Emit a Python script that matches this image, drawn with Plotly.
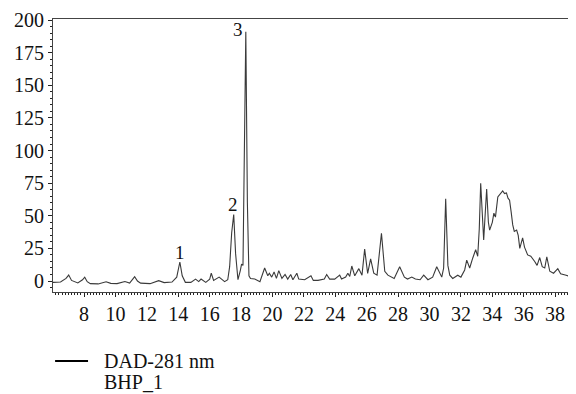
import plotly.graph_objects as go

# Retention time (min) and absorbance (mAU)
time_min = [
    6.00, 6.50, 6.85, 7.02, 7.20, 7.60, 7.90, 8.04, 8.20, 8.40, 8.90, 9.40, 9.70,
    10.10, 10.60, 10.90, 11.10, 11.22, 11.40, 11.60, 12.20, 12.75, 13.10, 13.60,
    13.90, 14.10, 14.25, 14.45, 14.80, 15.10, 15.30, 15.45, 15.75, 16.00, 16.10,
    16.25, 16.60, 16.95, 17.15, 17.27, 17.40, 17.53, 17.65, 17.80, 17.95, 18.03,
    18.12, 18.20, 18.30, 18.40, 18.50, 18.60, 18.87, 19.20, 19.50, 19.70, 19.80,
    19.95, 20.10, 20.25, 20.40, 20.60, 20.80, 20.97, 21.16, 21.30, 21.55, 21.67,
    22.05, 22.45, 22.60, 22.90, 23.30, 23.45, 23.64, 23.96, 24.28, 24.40, 24.66,
    24.80, 24.92, 25.05, 25.24, 25.50, 25.70, 25.87, 26.06, 26.25, 26.45, 26.66,
    26.94, 27.15, 27.35, 27.75, 28.10, 28.40, 28.60, 28.87, 29.10, 29.40, 29.63,
    29.90, 30.20, 30.46, 30.78, 30.90, 31.03, 31.17, 31.29, 31.48, 31.80, 32.00,
    32.24, 32.37, 32.56, 32.75, 32.94, 33.07, 33.17, 33.26, 33.36, 33.45, 33.64,
    33.75, 33.83, 34.00, 34.10, 34.20, 34.35, 34.45, 34.60, 34.66, 34.78, 34.90,
    35.00, 35.10, 35.20, 35.30, 35.40, 35.55, 35.65, 35.75, 35.93, 36.05, 36.25,
    36.45, 36.70, 36.85, 37.02, 37.18, 37.34, 37.47, 37.66, 37.90, 38.17, 38.35,
    38.70, 39.05, 39.31,
]
absorbance = [
    -1.0, -0.8, 2.0, 4.6, 0.5, -1.5, 1.0, 3.0, -0.5, -2.0, -2.2, -0.6, -1.8,
    -2.0, -0.4, -1.5, 1.5, 3.3, 0.0, -1.6, -2.0, 0.3, -1.2, -0.8,
    3.0, 14.6, 4.0, -1.0, -1.0, 1.5, -0.4, 1.5, -1.0, 1.5, 6.0,
    0.5, 3.0, -0.5, 1.0, 11.0, 37.0, 51.0, 21.0, 1.0, 8.0, 13.0,
    12.0, 80.0, 191.0, 60.0, 4.0, 2.0, 1.5, -0.5, 10.0, 4.0, 6.0,
    3.0, 7.0, 2.0, 8.0, 2.0, 5.0, 1.5, 5.0, 1.0, 6.0, 1.5,
    1.0, 4.0, 0.5, 0.5, 1.5, 5.0, 1.5, 1.5, 4.5, 1.5, 3.0,
    6.0, 3.5, 11.5, 4.0, 9.5, 4.5, 24.5, 5.8, 17.0, 6.0, 4.5,
    36.6, 7.5, 4.5, 2.0, 11.0, 3.0, 1.5, 3.0, 1.5, 1.0, 4.5,
    1.0, 3.0, 11.0, 3.0, 10.0, 63.0, 12.0, 4.5, 2.0, 4.5, 3.0,
    8.5, 16.0, 10.0, 17.5, 24.0, 19.0, 40.0, 75.0, 45.0, 31.5, 70.5,
    45.0, 39.0, 45.0, 52.0, 49.0, 64.5, 66.0, 67.5, 69.0, 67.0, 67.5,
    63.5, 62.0, 53.0, 43.0, 38.0, 39.0, 35.0, 25.0, 33.0, 26.0, 20.0,
    19.0, 15.0, 12.0, 18.0, 11.0, 10.0, 18.5, 7.5, 6.0, 9.5, 5.5,
    4.5, 3.0, 2.0,
]

# Peak labels
peak_labels = ["1", "2", "3"]
peak_label_x = [14.12, 17.50, 17.78]
peak_label_y = [21.8, 59.0, 192.6]

# Legend text
legend_lines = ["DAD-281 nm", "BHP_1"]

x_tick_vals = list(range(8, 40, 2))
y_tick_vals = [0, 25, 50, 75, 100, 125, 150, 175, 200]

FONT = "Liberation Serif, Times New Roman, DejaVu Serif, serif"
TXT = "#111111"

fig = go.Figure()
fig.add_trace(go.Scatter(
    x=time_min, y=absorbance, mode="lines",
    line=dict(color="#3a3a3a", width=1.1),
    name=" ".join(legend_lines),
    showlegend=False,
))

for lab, lx, ly in zip(peak_labels, peak_label_x, peak_label_y):
    fig.add_annotation(x=lx, y=ly, text=lab, showarrow=False,
                       font=dict(family=FONT, size=19, color=TXT),
                       xanchor="center", yanchor="middle")

# Legend drawn below the plot: key line + two text lines
fig.add_shape(type="line", xref="paper", yref="paper",
              x0=0.004, x1=0.067, y0=-0.253, y1=-0.253,
              line=dict(color="#000000", width=2))
for i, txt in enumerate(legend_lines):
    fig.add_annotation(xref="paper", yref="paper", x=0.093, y=-0.253 - 0.077 * i,
                       text=txt, showarrow=False, xanchor="left", yanchor="middle",
                       font=dict(family=FONT, size=20, color=TXT))

fig.update_layout(
    width=568, height=386,
    margin=dict(l=45, r=0, t=11, b=102, autoexpand=False),
    paper_bgcolor="white", plot_bgcolor="white",
    font=dict(family=FONT, size=20, color=TXT),
    showlegend=False,
)
fig.update_xaxes(
    range=[6.02, 39.33], tickmode="array", tickvals=x_tick_vals,
    showgrid=False, zeroline=False, showline=True, linecolor="#444444", linewidth=1,
    mirror=True, ticks="outside", ticklen=4, tickcolor="#222222", tickwidth=1,
    minor=dict(dtick=0.2, tick0=6, ticks="outside", ticklen=2, tickcolor="#222222", showgrid=False),
    tickfont=dict(family=FONT, size=20, color=TXT),
)
fig.update_yaxes(
    range=[-8.4, 200.8], tickmode="array", tickvals=y_tick_vals,
    showgrid=False, zeroline=False, showline=True, linecolor="#444444", linewidth=1,
    ticks="outside", ticklen=4, tickcolor="#222222", tickwidth=1,
    minor=dict(dtick=5, tick0=0, ticks="outside", ticklen=2, tickcolor="#222222", showgrid=False),
    tickfont=dict(family=FONT, size=20, color=TXT),
)

fig.write_html("out.html")
